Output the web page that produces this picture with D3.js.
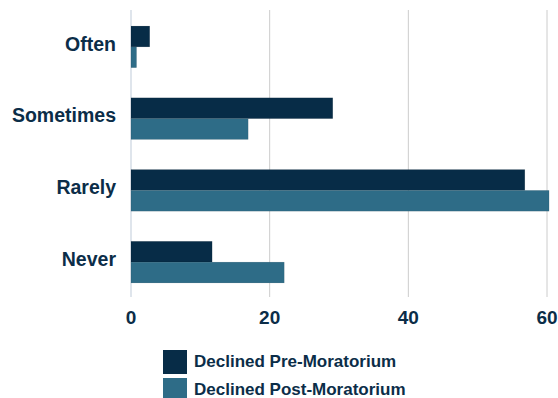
<!DOCTYPE html>
<html>
<head>
<meta charset="utf-8">
<script src="https://cdn.jsdelivr.net/npm/d3@7"></script>
<style>
  body { margin: 0; background: #fff; }
  text { font-family: "Liberation Sans", Arial, sans-serif; font-weight: bold; fill: #0b2d48; }
</style>
</head>
<body>
<div id="app"></div>
<script>
// data
let categories = ["Often", "Sometimes", "Rarely", "Never"]
let seriesNames = ["Declined Pre-Moratorium", "Declined Post-Moratorium"]
let preValues = [2.7, 29.1, 56.8, 11.7]
let postValues = [0.8, 16.9, 60.3, 22.1]
let xTicks = [0, 20, 40, 60]
let colors = ["#072c47", "#2e6c87"]

let width = 558, height = 398
let svg = d3.select("#app").append("svg")
    .attr("width", width)
    .attr("height", height)

let x = d3.scaleLinear().domain([0, 60]).range([131, 547])
let y = d3.scaleBand().domain(categories).range([11, 298]).paddingInner(0.42).paddingOuter(0.21)
let sub = d3.scaleBand().domain([0, 1]).range([0, y.bandwidth()])

// grid lines
svg.append("g").selectAll("line")
    .data(xTicks)
    .enter().append("line")
    .attr("x1", d => x(d)).attr("x2", d => x(d))
    .attr("y1", 10).attr("y2", 297)
    .attr("stroke", d => d === 0 ? "#dfe5ec" : "#cccccc")
    .attr("stroke-width", d => d === 0 ? 2 : 1)

let rows = categories.map((c, i) => ({cat: c, vals: [preValues[i], postValues[i]]}))

let group = svg.append("g").selectAll("g")
    .data(rows)
    .enter().append("g")
    .attr("transform", d => "translate(0," + y(d.cat) + ")")

group.selectAll("rect")
    .data(d => d.vals.map((v, j) => ({v: v, j: j})))
    .enter().append("rect")
    .attr("x", x(0))
    .attr("y", d => sub(d.j))
    .attr("width", d => x(d.v) - x(0))
    .attr("height", sub.bandwidth())
    .attr("fill", d => colors[d.j])
    .attr("stroke", "rgba(0,0,0,0.12)")
    .attr("stroke-width", 0.6)

// category labels
svg.append("g").selectAll("text")
    .data(categories)
    .enter().append("text")
    .attr("x", 116)
    .attr("y", d => y(d) + y.bandwidth() / 2 - 3)
    .attr("dy", "0.35em")
    .attr("text-anchor", "end")
    .attr("font-size", 19.5)
    .text(d => d)

// x tick labels
svg.append("g").selectAll("text")
    .data(xTicks)
    .enter().append("text")
    .attr("x", d => x(d))
    .attr("y", 323.5)
    .attr("text-anchor", "middle")
    .attr("font-size", 19)
    .text(d => d)

// legend
let legend = svg.append("g").selectAll("g")
    .data(seriesNames)
    .enter().append("g")
    .attr("transform", (d, i) => "translate(163," + (350 + i * 28) + ")")

legend.append("rect")
    .attr("width", 24).attr("height", 24)
    .attr("fill", (d, i) => colors[i])

legend.append("text")
    .attr("x", 31)
    .attr("y", 11)
    .attr("dy", "0.35em")
    .attr("font-size", 17)
    .text(d => d)
</script>
</body>
</html>
